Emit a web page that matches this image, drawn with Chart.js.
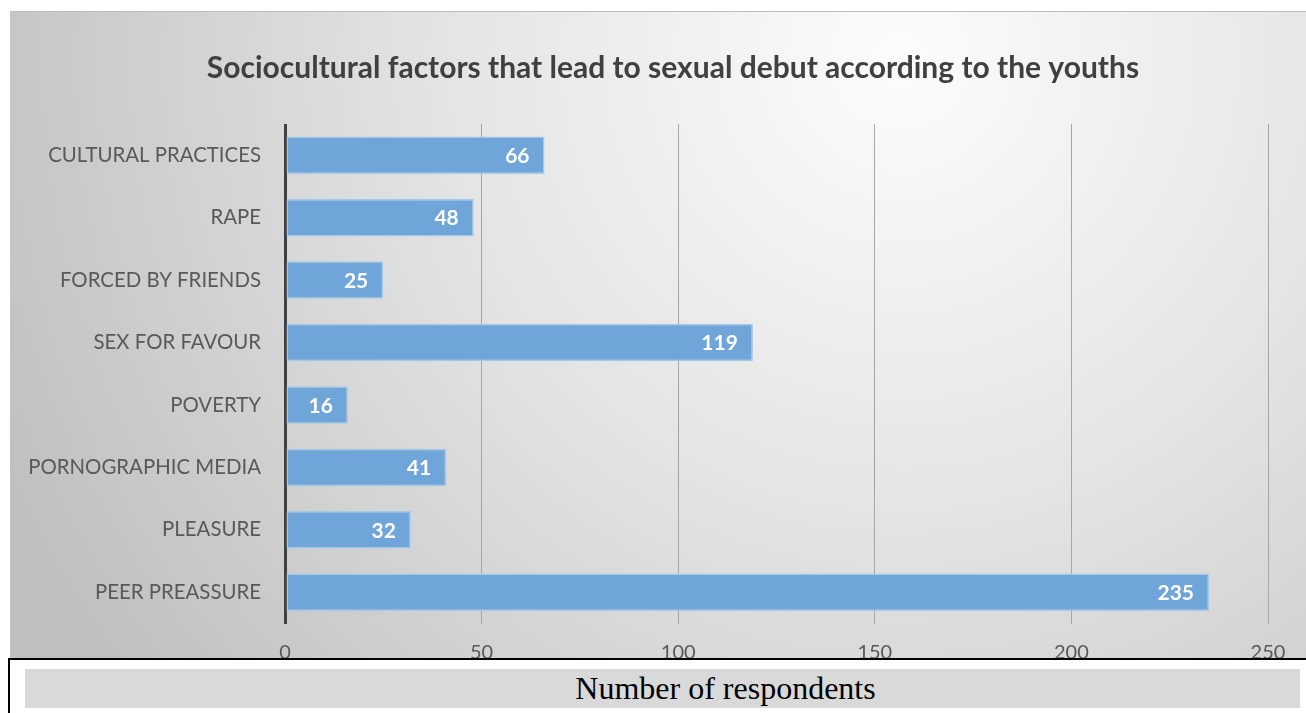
<!DOCTYPE html>
<html>
<head>
<meta charset="utf-8">
<script src="https://cdn.jsdelivr.net/npm/chart.js@4"></script>
<style>
  body { margin: 0; background: #fff; }
  #wrap { position: relative; width: 1306px; height: 713px; overflow: hidden; }
  #mycanvas { position: absolute; left: 0; top: 0; }
  #axisbox {
    position: absolute; left: 8px; top: 658px; width: 1298px; height: 60px;
    background: #fff; border-top: 2px solid #000; border-left: 2px solid #000;
  }
  #axisbox div {
    position: absolute; left: 15px; top: 9px; width: 1275px; height: 39px;
    background: #d9d9d9; text-align: center; box-sizing: border-box; padding-left: 126px;
    font-family: "Liberation Serif", "Times New Roman", serif; font-size: 32px; line-height: 39px; color: #000;
  }
</style>
</head>
<body>
<div id="wrap">
  <canvas id="mycanvas" width="1306" height="713"></canvas>
  <div id="axisbox"><div>Number of respondents</div></div>
</div>
<script>
const chartTitle = "Sociocultural factors that lead to sexual debut according to the youths";
const categories = [
  "CULTURAL PRACTICES",
  "RAPE",
  "FORCED BY FRIENDS",
  "SEX FOR FAVOUR",
  "POVERTY",
  "PORNOGRAPHIC MEDIA",
  "PLEASURE",
  "PEER PREASSURE",
];
const respondents = [66, 48, 25, 119, 16, 41, 32, 235];
const xTicks = [0, 50, 100, 150, 200, 250];

const FONT = "Lato, 'Open Sans', sans-serif";

// gray gradient backdrop like the office chart style, plus the title
const backdrop = {
  id: "backdrop",
  beforeDraw(chart) {
    const ctx = chart.ctx;
    ctx.save();
    let g = ctx.createRadialGradient(900, 60, 20, 900, 60, 980);
    g.addColorStop(0, "#fbfbfb");
    g.addColorStop(0.45, "#e4e4e4");
    g.addColorStop(1, "#c0c0c0");
    ctx.fillStyle = g;
    ctx.fillRect(10, 11, 1296, 650);
    ctx.strokeStyle = "#bdbdbd";
    ctx.lineWidth = 1;
    ctx.beginPath();
    ctx.moveTo(10, 11.5);
    ctx.lineTo(1306, 11.5);
    ctx.stroke();

    ctx.font = "bold 30px " + FONT;
    ctx.fillStyle = "#404040";
    ctx.textAlign = "center";
    ctx.textBaseline = "middle";
    ctx.fillText(chartTitle, 673, 68);
    ctx.restore();
  }
};

// white bold values near the end of each bar
const barValues = {
  id: "barValues",
  afterDatasetsDraw(chart) {
    const ctx = chart.ctx;
    const meta = chart.getDatasetMeta(0);
    ctx.save();
    ctx.font = "bold 21px " + FONT;
    ctx.fillStyle = "#ffffff";
    ctx.textAlign = "right";
    ctx.textBaseline = "middle";
    meta.data.forEach((bar, i) => {
      ctx.fillText(String(respondents[i]), bar.x - 15, bar.y + 1);
    });
    ctx.restore();
  }
};

let chart = new Chart(document.getElementById("mycanvas"), {
  type: "bar",
  data: {
    labels: categories,
    datasets: [{
      data: respondents,
      backgroundColor: "#6fa5d8",
      borderColor: "#a3c8ea",
      borderWidth: 1.5,
      borderSkipped: false,
      barPercentage: 0.6,
      categoryPercentage: 1,
    }]
  },
  options: {
    indexAxis: "y",
    responsive: false,
    animation: false,
    layout: { padding: { top: 124, left: 0, right: 38, bottom: 30.5 } },
    plugins: {
      legend: { display: false },
      tooltip: { enabled: false },
      title: { display: false },
    },
    scales: {
      x: {
        min: 0,
        max: 250,
        afterBuildTicks(scale) {
          scale.ticks = xTicks.map(v => ({ value: v }));
        },
        grid: {
          color: ctx => ctx.index === 0 ? "#404040" : "#a6a6a6",
          lineWidth: ctx => ctx.index === 0 ? 3 : 1,
          drawTicks: false,
        },
        border: { display: false },
        ticks: {
          color: "#595959",
          font: { family: FONT, size: 20 },
          padding: 17.5,
        },
      },
      y: {
        afterFit(scale) { scale.width = 285; },
        grid: { display: false, drawTicks: false },
        border: { display: false },
        ticks: {
          color: "#595959",
          font: { family: FONT, size: 20.4 },
          padding: 24,
        },
      },
    },
  },
  plugins: [backdrop, barValues],
});
</script>
</body>
</html>
